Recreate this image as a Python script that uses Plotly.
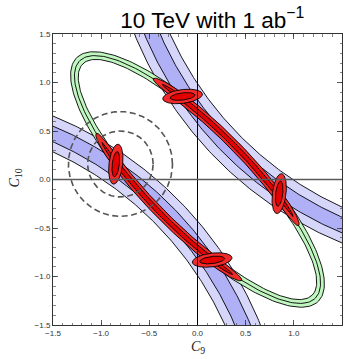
import numpy as np
import plotly.graph_objects as go

# ---------------- values ----------------
AX_RANGE = [-1.5, 1.5]
TICKS = [-1.5, -1.0, -0.5, 0.0, 0.5, 1.0, 1.5]

# green ring: tilted ellipse centred at the origin (outer, middle, inner contour)
ring_semi_major = [1.775, 1.73, 1.685]
ring_semi_minor = [0.565, 0.52, 0.475]
ring_angle = -45.0

# blue bands: arcs of circles (upper band, lower band)
band_cx = [2.979, -2.979]
band_cy = [2.979, -2.979]
band_radius = 3.753
band_halfwidth = [0.17, 0.075]         # light (2 sigma), dark (1 sigma)
band_phi = [(188, 262), (8, 82)]       # angular extent in degrees

# red elongated regions along the two long sides of the ring (outer, inner)
red_long_u = [(-1.06, 1.08), (-0.95, 0.97)]
red_long_halfwidth = [0.05, 0.022]

# small red ellipses
small_cx = [-0.155, 0.848, -0.848, 0.152]
small_cy = [0.856, -0.146, 0.158, -0.83]
small_angle = [7, 83, 83, 7]
small_axes_outer = (0.207, 0.071)
small_axes_inner = (0.13, 0.037)

# dashed circles
circ_center = (-0.80, 0.16)
circ_radii = [0.34, 0.54]

# colours
C_LIGHT_BLUE = "rgb(214,214,251)"
C_DARK_BLUE = "rgb(176,176,246)"
C_GREEN = "rgb(192,246,192)"
C_RED_OUT = "rgb(243,42,42)"
C_RED_IN = "rgb(228,0,0)"


def ellipse(cx, cy, a, b, ang, n=240, reverse=False):
    t = np.linspace(0, 2 * np.pi, n)
    if reverse:
        t = t[::-1]
    ca, sa = np.cos(np.radians(ang)), np.sin(np.radians(ang))
    x = cx + a * np.cos(t) * ca - b * np.sin(t) * sa
    y = cy + a * np.cos(t) * sa + b * np.sin(t) * ca
    return x, y


def annulus_arc(cx, cy, r, hw, phi0, phi1, n=200):
    p = np.radians(np.linspace(phi0, phi1, n))
    xo = cx + (r + hw) * np.cos(p)
    yo = cy + (r + hw) * np.sin(p)
    xi = cx + (r - hw) * np.cos(p[::-1])
    yi = cy + (r - hw) * np.sin(p[::-1])
    return np.concatenate([xo, xi, xo[:1]]), np.concatenate([yo, yi, yo[:1]])


def lens(a, b, ang, u0, u1, w0, sign=1, n=200):
    t0, t1 = np.arccos(u1 / a), np.arccos(u0 / a)
    t = np.linspace(t0, t1, n)
    s = np.linspace(-1, 1, n)
    w = w0 * np.sqrt(np.clip(1 - s ** 6, 0, None))
    pu, pv = a * np.cos(t), b * np.sin(t)
    nu, nv = np.cos(t) / a, np.sin(t) / b
    nn = np.hypot(nu, nv)
    nu, nv = nu / nn, nv / nn
    u_out, v_out = pu + w * nu, pv + w * nv
    u_in, v_in = (pu - w * nu)[::-1], (pv - w * nv)[::-1]
    u = np.concatenate([u_out, u_in, u_out[:1]])
    v = np.concatenate([v_out, v_in, v_out[:1]])
    ca, sa = np.cos(np.radians(ang)), np.sin(np.radians(ang))
    x = u * ca - v * sa
    y = u * sa + v * ca
    return sign * x, sign * y


fig = go.Figure()
LW = 0.9

# blue bands
for cx, cy, (p0, p1) in zip(band_cx, band_cy, band_phi):
    for hw, col in zip(band_halfwidth, [C_LIGHT_BLUE, C_DARK_BLUE]):
        x, y = annulus_arc(cx, cy, band_radius, hw, p0, p1)
        fig.add_trace(go.Scatter(x=x, y=y, mode="lines", fill="toself", fillcolor=col,
                                 line=dict(color="black", width=LW), hoverinfo="skip",
                                 showlegend=False))

# green ring (outer contour with inner hole)
xo, yo = ellipse(0, 0, ring_semi_major[0], ring_semi_minor[0], ring_angle)
xi, yi = ellipse(0, 0, ring_semi_major[2], ring_semi_minor[2], ring_angle, reverse=True)
fig.add_trace(go.Scatter(x=np.concatenate([xo, [None], xi]), y=np.concatenate([yo, [None], yi]),
                         mode="lines", fill="toself", fillcolor=C_GREEN,
                         line=dict(color="black", width=LW), hoverinfo="skip", showlegend=False))
xm, ym = ellipse(0, 0, ring_semi_major[1], ring_semi_minor[1], ring_angle)
fig.add_trace(go.Scatter(x=xm, y=ym, mode="lines", line=dict(color="black", width=LW),
                         hoverinfo="skip", showlegend=False))

# red elongated regions
for sign in [1, -1]:
    for (u0, u1), hw, col in zip(red_long_u, red_long_halfwidth, [C_RED_OUT, C_RED_IN]):
        x, y = lens(ring_semi_major[1], ring_semi_minor[1], ring_angle, u0, u1, hw, sign)
        fig.add_trace(go.Scatter(x=x, y=y, mode="lines", fill="toself", fillcolor=col,
                                 line=dict(color="black", width=LW), hoverinfo="skip",
                                 showlegend=False))

# small red ellipses
for cx, cy, ang in zip(small_cx, small_cy, small_angle):
    for (a, b), col in zip([small_axes_outer, small_axes_inner], [C_RED_OUT, C_RED_IN]):
        x, y = ellipse(cx, cy, a, b, ang)
        fig.add_trace(go.Scatter(x=x, y=y, mode="lines", fill="toself", fillcolor=col,
                                 line=dict(color="black", width=LW), hoverinfo="skip",
                                 showlegend=False))

# dashed circles
for r in circ_radii:
    x, y = ellipse(circ_center[0], circ_center[1], r, r, 0, n=300)
    fig.add_trace(go.Scatter(x=x, y=y, mode="lines",
                             line=dict(color="#555555", width=1.6, dash="6px,3.5px"),
                             hoverinfo="skip", showlegend=False))

# axes through the origin
fig.add_shape(type="line", xref="x", yref="paper", x0=0, x1=0, y0=0, y1=1,
              line=dict(color="black", width=1), layer="above")
fig.add_shape(type="line", xref="paper", yref="y", x0=0, x1=1, y0=0, y1=0,
              line=dict(color="#5a5a5a", width=1.5), layer="above")

tickfont = dict(family="Liberation Sans, Arial, sans-serif", size=8, color="#333333")
axis_common = dict(
    range=AX_RANGE, tickvals=TICKS, tickformat=".1f", ticks="inside", ticklen=5,
    tickwidth=0.8, tickcolor="#333333", mirror="allticks", showline=True,
    linecolor="#333333", linewidth=1, showgrid=False, zeroline=False,
    tickfont=tickfont, automargin=False,
    minor=dict(ticks="inside", dtick=0.1, ticklen=2.5, tickwidth=0.6,
               tickcolor="#333333", showgrid=False),
)

serif = dict(family="Liberation Serif, Times New Roman, serif", size=14, color="#222222")
fig.add_annotation(text="<i>C</i><sub>9</sub>", xref="paper", yref="paper",
                   x=0.5, y=-0.079, xanchor="center", yanchor="middle",
                   showarrow=False, font=serif)
fig.add_annotation(text="<i>C</i><sub>10</sub>", xref="paper", yref="paper",
                   x=-0.13, y=0.505, xanchor="center", yanchor="middle",
                   textangle=-90, showarrow=False, font=serif)

fig.update_layout(
    width=348, height=359, autosize=False,
    margin=dict(l=53, r=6, t=34, b=34),
    paper_bgcolor="white", plot_bgcolor="white",
    title=dict(text="10 TeV with 1 ab<sup>\u22121</sup>", xref="container", yref="container",
               x=0.61, xanchor="center", y=0.945, yanchor="middle",
               font=dict(family="Liberation Sans, Arial, sans-serif", size=22.5, color="black")),
    xaxis=axis_common,
    yaxis=axis_common,
)

fig.write_html("out.html", config={"displayModeBar": False, "staticPlot": True},
               post_script="document.body.style.margin='0px';document.body.style.overflow='hidden';")
